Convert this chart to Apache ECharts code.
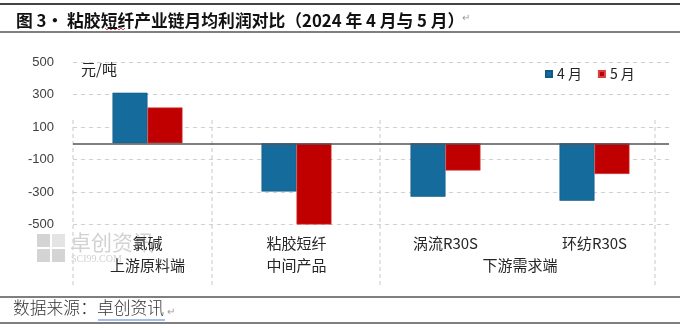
<!DOCTYPE html>
<html>
<head>
<meta charset="utf-8">
<script src="https://cdn.jsdelivr.net/npm/echarts@6/dist/echarts.min.js"></script>
<style>html,body{margin:0;padding:0;background:#fff;}#c{width:680px;height:328px;}</style>
</head>
<body>
<div id="c"></div>
<script>
const categories = ['氯碱', '粘胶短纤', '涡流R30S', '环纺R30S'];
const groupLabels = ['', '上游原料端', '', '中间产品', '', '', '下游需求端', '', ''];
const seriesNames = ['4 月', '5 月'];
const aprilProfit = [311, -297, -329, -354];
const mayProfit = [220, -500, -168, -189];
const yMin = -500, yMax = 500, yStep = 200;

const chart = echarts.init(document.getElementById('c'), null, {renderer: 'canvas'});
const CJK = '"Noto Sans CJK SC", "Noto Sans", sans-serif';
const dashV = {stroke: '#c8c8c8', lineWidth: 1, lineDash: [4, 3]};
function vline(x) { return {type: 'line', shape: {x1: x, y1: 120, x2: x, y2: 287}, style: dashV, silent: true, z: 0}; }

chart.setOption({
  animation: false,
  backgroundColor: '#fff',
  title: {
    text: '图 3· 粘胶短纤产业链月均利润对比（2024 年 4 月与 5 月）',
    left: 11, top: 7,
    textStyle: {fontFamily: CJK, fontSize: 16.8, fontWeight: 'bold', color: '#111'}
  },
  legend: {
    data: seriesNames,
    left: 540, top: 62,
    icon: 'rect', itemWidth: 6, itemHeight: 6, itemGap: 16,
    textStyle: {fontFamily: CJK, fontSize: 14, color: '#222'}
  },
  grid: {left: 73, right: 11, top: 62, bottom: 103.5},
  xAxis: [{
    type: 'category',
    data: categories,
    position: 'bottom',
    axisLine: {show: false, onZero: false},
    axisTick: {show: false},
    splitLine: {show: false},
    axisLabel: {interval: 0, margin: 11, fontFamily: CJK, fontSize: 15, color: '#262626'}
  }, {
    type: 'category',
    data: groupLabels,
    boundaryGap: false,
    position: 'bottom',
    offset: 22,
    axisLine: {show: false, onZero: false},
    axisTick: {show: false},
    splitLine: {show: false},
    axisLabel: {interval: 0, margin: 11, fontFamily: CJK, fontSize: 15, color: '#262626'}
  }],
  yAxis: {
    type: 'value',
    min: yMin, max: yMax, interval: yStep,
    name: '元/吨',
    nameLocation: 'end',
    nameGap: -7,
    nameTextStyle: {align: 'left', verticalAlign: 'middle', padding: [0, 0, 0, 8], fontFamily: CJK, fontSize: 15, color: '#262626'},
    axisLine: {show: false},
    axisTick: {show: false},
    axisLabel: {margin: 19, fontFamily: '"Liberation Sans", Arial, sans-serif', fontSize: 13, color: '#404040'},
    splitLine: {show: true, lineStyle: {color: '#d0d0d0', type: [4, 4], width: 1}}
  },
  series: [{
    name: seriesNames[0],
    type: 'bar',
    data: aprilProfit,
    barWidth: 35,
    barGap: '0%',
    itemStyle: {color: '#156B9B', borderColor: '#0f5a86', borderWidth: 0.6},
    markLine: {
      silent: true, symbol: 'none', label: {show: false},
      lineStyle: {color: '#555', type: 'solid', width: 1.5},
      data: [{yAxis: 0}]
    },
    z: 3
  }, {
    name: seriesNames[1],
    type: 'bar',
    data: mayProfit,
    barWidth: 35,
    barGap: '0%',
    itemStyle: {color: '#C00000', borderColor: '#d84040', borderWidth: 0.6},
    z: 3
  }],
  graphic: [
    {type: 'line', shape: {x1: 0, y1: 4, x2: 680, y2: 4}, style: {stroke: '#444', lineWidth: 2}, silent: true},
    {type: 'line', shape: {x1: 0, y1: 32, x2: 680, y2: 32}, style: {stroke: '#555', lineWidth: 1.5}, silent: true},
    {type: 'polyline', shape: {points: [[105,28],[107,30],[109,28],[111,30],[113,28],[115,30],[117,28],[119,30],[121,28],[123,30],[125,28]]}, style: {stroke: '#d23', lineWidth: 0.8, fill: null}, silent: true},
    {type: 'text', left: 462, top: 13, style: {text: '↵', fontSize: 10, fill: '#999'}, silent: true},
    vline(73), vline(212), vline(380), vline(655),
    {type: 'group', left: 37, top: 232, z: -1, silent: true, children: [
      {type: 'rect', shape: {x: 0, y: 0, width: 13, height: 13}, style: {fill: '#d4d4d4'}},
      {type: 'rect', shape: {x: 15, y: 0, width: 13, height: 13}, style: {fill: '#e4e4e4'}},
      {type: 'rect', shape: {x: 0, y: 15, width: 13, height: 13}, style: {fill: '#d4d4d4'}},
      {type: 'rect', shape: {x: 15, y: 15, width: 13, height: 13}, style: {fill: '#d4d4d4'}},
      {type: 'text', x: 33, y: -2, style: {text: '卓创资讯', fontFamily: CJK, fontSize: 21, fill: '#d2d2d2'}},
      {type: 'text', x: 34, y: 20, style: {text: 'SCI99.COM', fontFamily: '"Liberation Serif", serif', fontSize: 10, fill: '#d2d2d2'}}
    ]},
    {type: 'line', shape: {x1: 0, y1: 297, x2: 680, y2: 297}, style: {stroke: '#555', lineWidth: 1.5}, silent: true},
    {type: 'text', left: 13, top: 299, style: {text: '数据来源：卓创资讯', fontFamily: CJK, fontSize: 16.8, fontWeight: 300, fill: '#333'}, silent: true},
    {type: 'line', shape: {x1: 98, y1: 320, x2: 165, y2: 320}, style: {stroke: '#4a7fd4', lineWidth: 1.2}, silent: true},
    {type: 'text', left: 167, top: 307, style: {text: '↵', fontSize: 10, fill: '#999'}, silent: true},
    {type: 'line', shape: {x1: 0, y1: 323, x2: 680, y2: 323}, style: {stroke: '#555', lineWidth: 1.5}, silent: true}
  ]
});
</script>
</body>
</html>
